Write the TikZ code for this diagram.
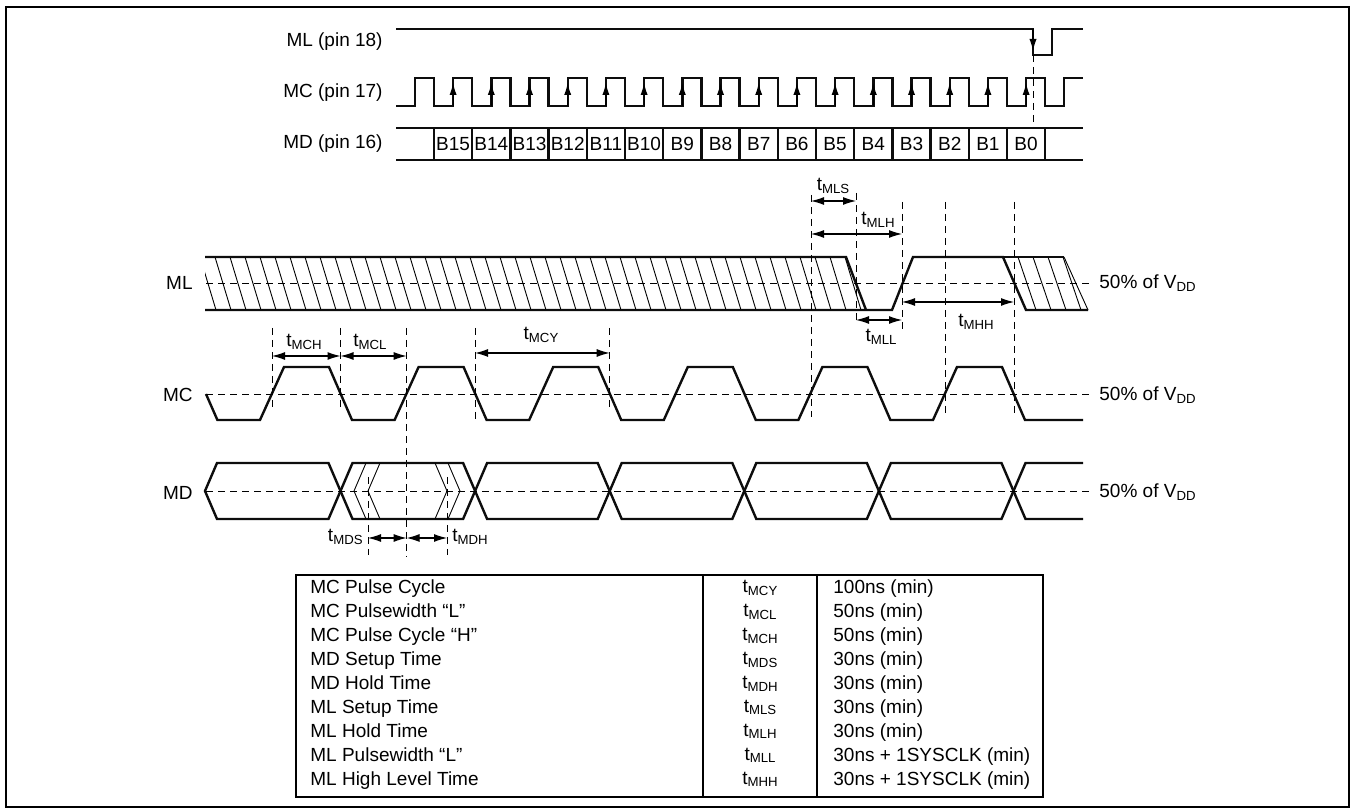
\documentclass[tikz,border=0pt]{standalone}
\usepackage{fontspec}
\setmainfont{Liberation Sans}
\usetikzlibrary{arrows.meta}
\definecolor{lineBlack}{gray}{0.05}
\newcommand{\tsub}[1]{t\raisebox{-1.2pt}{\fontsize{6.6}{7}\selectfont #1}}
\newcommand{\vdd}{V\raisebox{-1.2pt}{\fontsize{6.6}{7}\selectfont DD}}

\begin{document}
\begin{tikzpicture}[x=0.5pt, y=-0.5pt, >={Latex[length=6.5pt,width=4pt]},
    every node/.style={font=\fontsize{9.5}{11}\selectfont, inner sep=0pt},
    sig/.style={line width=1.2pt, lineBlack},
    guide/.style={line width=0.45pt, dash pattern=on 3.5pt off 2.5pt},
    hatchline/.style={line width=0.45pt},
    dimline/.style={<->, line width=0.55pt},
    edgearrow/.style={->, line width=0.6pt, >={Latex[length=6pt,width=3.6pt]}}]
    \useasboundingbox (0,0) rectangle (1356,812);
    \draw[line width=1pt] (6,7) rectangle (1349,807);

    \node[anchor=east] (mlPin) at (383,42) {ML (pin 18)};
    \node[anchor=east] (mcPin) at (383,93) {MC (pin 17)};
    \node[anchor=east] (mdPin) at (383,144) {MD (pin 16)};

    \draw[sig] (396,29) -- (1033,29) -- (1033,55) -- (1052,55) -- (1052,29) -- (1083,29);
    \draw[edgearrow] (1033,29) -- (1033,51);
    \draw[guide] (1033,55) -- (1033,128);

    \draw[sig] (396,106) -- (415,106) -- (415,78) -- (434,78) -- (434,106)
        \foreach \k in {0,...,15} { -- ({434+38.2*(\k+0.5)},106) -- ({434+38.2*(\k+0.5)},78)
        -- ({434+38.2*(\k+1)},78) -- ({434+38.2*(\k+1)},106) }
        -- (1064,106) -- (1064,78) -- (1083,78);
    \foreach \k in {0,...,15}
        \draw[edgearrow] ({434+38.2*(\k+0.5)},106) -- ({434+38.2*(\k+0.5)},83);

    \draw[sig] (396,128) -- (1083,128) (396,160) -- (1083,160);
    \foreach \k in {0,...,16}
        \draw[sig] ({434+38.2*\k},128) -- ({434+38.2*\k},160);
    \foreach \k [evaluate=\k as \b using int(15-\k)] in {0,...,15}
        \node (bit\b) at ({434+38.2*(\k+0.5)},144) {B\b};

    \node[anchor=east] (mlName) at (193,283) {ML};
    \begin{scope}
        \clip (205,257) -- (846,257) -- (866,310) -- (205,310) -- cycle;
        \foreach \x in {200,215,...,870}
            \draw[hatchline] (\x,257) -- ({\x+16},310);
    \end{scope}
    \begin{scope}
        \clip (1003,257) -- (1064,257) -- (1088,310) -- (1026,310) -- cycle;
        \foreach \x in {1003,1018,...,1070}
            \draw[hatchline] (\x,257) -- ({\x+18},310);
    \end{scope}
    \draw[hatchline] (1064,257) -- (1088,310);
    \draw[sig] (205,257) -- (846,257) -- (866,310);
    \draw[sig] (205,310) -- (892,310) -- (913,257) -- (1003,257) -- (1026,310) -- (1088,310);
    \draw[sig] (1003,257) -- (1064,257);
    \draw[guide] (206,283) -- (1090,283);
    \node[anchor=west] (mlLevel) at (1099,283) {50\% of \vdd};

    \draw[guide] (811,195) -- (811,417);
    \draw[guide] (856,193) -- (856,323);
    \draw[guide] (902,202) -- (902,332);
    \draw[guide] (945,202) -- (945,415);
    \draw[guide] (1014,202) -- (1014,415);
    \draw[dimline] (811,201) -- (856,201);
    \node (tMLS) at (833,186) {\tsub{MLS}};
    \draw[dimline] (811,234) -- (902,234);
    \node (tMLH) at (878,220) {\tsub{MLH}};
    \draw[dimline] (856,320) -- (902,320);
    \node (tMLL) at (881,337) {\tsub{MLL}};
    \draw[dimline] (902,302) -- (1014,302);
    \node (tMHH) at (976,322) {\tsub{MHH}};

    \node[anchor=east] (mcName) at (193,395) {MC};
    \draw[sig] (206,394) -- (217.4,420)
        \foreach \k in {0,...,5} { -- ({260+134.6*\k},420) -- ({284+134.6*\k},367)
        -- ({329+134.6*\k},367) -- ({352+134.6*\k},420) } -- (1083,420);
    \draw[guide] (206,394) -- (1090,394);
    \node[anchor=west] (mcLevel) at (1099,395) {50\% of \vdd};

    \draw[guide] (272,328) -- (272,408);
    \draw[guide] (340.5,328) -- (340.5,408);
    \draw[guide] (406.6,328) -- (406.6,557);
    \draw[guide] (475.1,328) -- (475.1,421);
    \draw[guide] (609.7,328) -- (609.7,408);
    \draw[dimline] (272,356) -- (340.5,356);
    \node (tMCH) at (304,342) {\tsub{MCH}};
    \draw[dimline] (340.5,356) -- (406.6,356);
    \node (tMCL) at (370,342) {\tsub{MCL}};
    \draw[dimline] (475.1,353) -- (609.7,353);
    \node (tMCY) at (541,335) {\tsub{MCY}};

    \node[anchor=east] (mdName) at (193,493) {MD};
    \foreach \a/\b in {205/340.5, 340.5/475.1, 475.1/609.7, 609.7/744.3, 744.3/878.9, 878.9/1013.5}
        \draw[sig] (\a,491) -- ({\a+12},463) -- ({\b-12},463) -- (\b,491) -- ({\b-12},519) -- ({\a+12},519) -- cycle;
    \draw[sig] (1083,463) -- (1025.5,463) -- (1013.5,491) -- (1025.5,519) -- (1083,519);
    \draw[hatchline] (366,463) -- (354,491) -- (366,519);
    \draw[hatchline] (380,463) -- (368,491) -- (380,519);
    \draw[hatchline] (435,463) -- (447,491) -- (435,519);
    \draw[hatchline] (448,463) -- (460,491) -- (448,519);
    \draw[guide] (206,491) -- (1092,491);
    \node[anchor=west] (mdLevel) at (1099,492) {50\% of \vdd};

    \draw[guide] (368,477) -- (368,555);
    \draw[guide] (447,477) -- (447,555);
    \draw[dimline] (368,538) -- (406.6,538);
    \draw[dimline] (406.6,538) -- (447,538);
    \node[anchor=east] (tMDS) at (363,537) {\tsub{MDS}};
    \node[anchor=west] (tMDH) at (452,537) {\tsub{MDH}};

    \draw[line width=1pt] (296,575) rectangle (1043,797);
    \draw[line width=0.6pt] (703,575) -- (703,797) (817,575) -- (817,797);
    \foreach \name/\sym/\val [count=\i from 0] in {
        MC Pulse Cycle/MCY/100ns (min),
        MC Pulsewidth “L”/MCL/50ns (min),
        MC Pulse Cycle “H”/MCH/50ns (min),
        MD Setup Time/MDS/30ns (min),
        MD Hold Time/MDH/30ns (min),
        ML Setup Time/MLS/30ns (min),
        ML Hold Time/MLH/30ns (min),
        ML Pulsewidth “L”/MLL/30ns + 1SYSCLK (min),
        ML High Level Time/MHH/30ns + 1SYSCLK (min)} {
        \node[anchor=base west] (param\i) at (310,{594+23.9*\i}) {\name};
        \node[anchor=base] (sym\i) at (760,{593+23.9*\i}) {\tsub{\sym}};
        \node[anchor=base west] (val\i) at (833,{594+23.9*\i}) {\val};
    }
\end{tikzpicture}
\end{document}
